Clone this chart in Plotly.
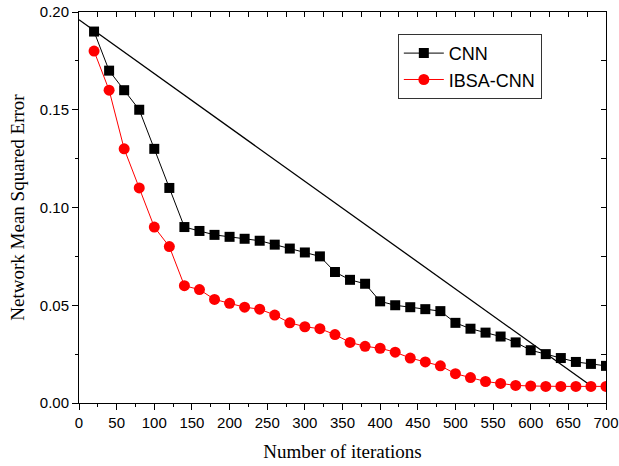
import plotly.graph_objects as go

iterations = [20, 40, 60, 80, 100, 120, 140, 160, 180, 200, 220, 240, 260, 280, 300, 320, 340,
              360, 380, 400, 420, 440, 460, 480, 500, 520, 540, 560, 580, 600, 620, 640, 660, 680, 700]
cnn = [0.190, 0.170, 0.160, 0.150, 0.130, 0.110, 0.090, 0.088, 0.086, 0.085, 0.084, 0.083, 0.081,
       0.079, 0.077, 0.075, 0.067, 0.063, 0.061, 0.052, 0.050, 0.049, 0.048, 0.047, 0.041, 0.038,
       0.036, 0.034, 0.031, 0.027, 0.025, 0.023, 0.021, 0.020, 0.019]
ibsa_cnn = [0.180, 0.160, 0.130, 0.110, 0.090, 0.080, 0.060, 0.058, 0.053, 0.051, 0.049, 0.048,
            0.045, 0.041, 0.039, 0.038, 0.035, 0.031, 0.029, 0.028, 0.026, 0.023, 0.021, 0.019,
            0.015, 0.013, 0.011, 0.010, 0.009, 0.0087, 0.0085, 0.0085, 0.0085, 0.0085, 0.0085]
diag_x = [0, 680]
diag_y = [0.196, 0.0088]

x_ticks = list(range(0, 701, 50))
y_ticks = [0.00, 0.05, 0.10, 0.15, 0.20]
y_tick_labels = ["0.00", "0.05", "0.10", "0.15", "0.20"]

fig = go.Figure()
fig.add_trace(go.Scatter(x=diag_x, y=diag_y, mode="lines", line=dict(color="black", width=1.3),
                         showlegend=False, hoverinfo="skip"))
fig.add_trace(go.Scatter(x=iterations, y=cnn, mode="lines+markers", name="CNN",
                         line=dict(color="black", width=1),
                         marker=dict(symbol="square", size=10, color="black")))
fig.add_trace(go.Scatter(x=iterations, y=ibsa_cnn, mode="lines+markers", name="IBSA-CNN",
                         line=dict(color="red", width=1),
                         marker=dict(symbol="circle", size=11, color="red")))
# dummy trace for mirrored (top/right) axes with inward ticks
fig.add_trace(go.Scatter(x=[None], y=[None], xaxis="x2", yaxis="y2", showlegend=False,
                         hoverinfo="skip"))

tickfont = dict(family="Liberation Sans, Arial", size=15, color="black")
titlefont = dict(family="Liberation Serif, Times New Roman", size=19, color="black")

fig.update_layout(
    width=619, height=466,
    margin=dict(l=79, r=13, t=12, b=63),
    paper_bgcolor="white", plot_bgcolor="white",
    xaxis=dict(range=[0, 700], tickvals=x_ticks, ticks="outside", ticklen=6, tickwidth=1,
               tickcolor="black", showline=True, linecolor="black", linewidth=1,
               showgrid=False, zeroline=False, tickfont=tickfont, automargin=False,
               minor=dict(dtick=25, ticks="outside", ticklen=3, tickcolor="black", showgrid=False),
               title=dict(text="Number of iterations", font=titlefont, standoff=14)),
    yaxis=dict(range=[0, 0.20], tickvals=y_ticks, ticktext=y_tick_labels, ticks="outside",
               ticklen=6, tickwidth=1, tickcolor="black", showline=True, linecolor="black",
               linewidth=1, showgrid=False, zeroline=False, tickfont=tickfont, automargin=False,
               minor=dict(dtick=0.025, ticks="outside", ticklen=3, tickcolor="black", showgrid=False),
               title=dict(text="Network Mean Squared Error", font=titlefont, standoff=10)),
    xaxis2=dict(range=[0, 700], overlaying="x", side="top", tickvals=x_ticks, ticks="inside",
                ticklen=5, tickcolor="black", showticklabels=False, showline=True,
                linecolor="black", linewidth=1, showgrid=False, zeroline=False, automargin=False,
                minor=dict(dtick=25, ticks="inside", ticklen=5, tickcolor="black", showgrid=False)),
    yaxis2=dict(range=[0, 0.20], overlaying="y", side="right", tickvals=y_ticks, ticks="inside",
                ticklen=5, tickcolor="black", showticklabels=False, showline=True,
                linecolor="black", linewidth=1, showgrid=False, zeroline=False, automargin=False,
                minor=dict(dtick=0.025, ticks="inside", ticklen=5, tickcolor="black", showgrid=False)),
    legend=dict(x=0.605, y=0.944, xanchor="left", yanchor="top", bgcolor="white",
                bordercolor="#333333", borderwidth=1,
                font=dict(family="Liberation Sans, Arial", size=18, color="black"),
                tracegroupgap=0, itemwidth=40),
    showlegend=True,
)

fig.write_html("out.html")
